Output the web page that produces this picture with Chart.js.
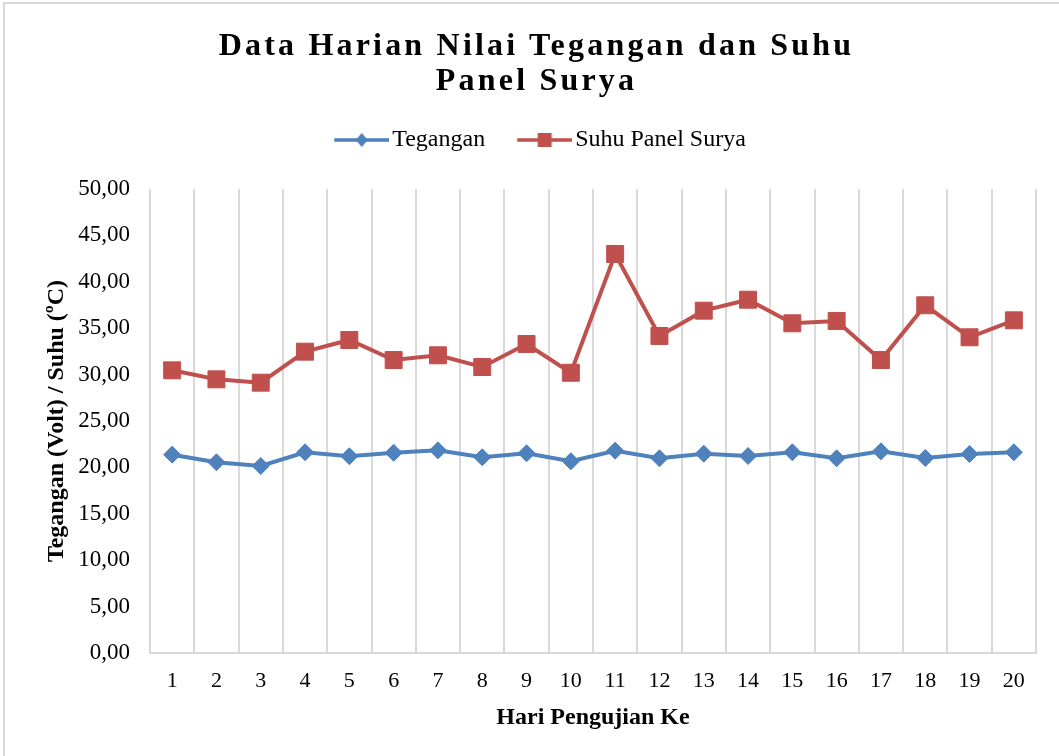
<!DOCTYPE html>
<html>
<head>
<meta charset="utf-8">
<script src="https://cdn.jsdelivr.net/npm/chart.js@4.4.1/dist/chart.umd.min.js"></script>
<style>
  html, body { margin: 0; padding: 0; background: #ffffff; }
  #wrap { position: relative; width: 1059px; height: 756px; }
  #title {
    position: absolute; left: 7px; top: 27px; width: 1059px;
    text-align: center; font-family: 'Liberation Serif', 'Times New Roman', serif;
    font-weight: bold; font-size: 32px; letter-spacing: 3.2px; line-height: 35px; color: #000;
  }
  canvas { position: absolute; left: 0; top: 0; }
</style>
</head>
<body>
<div id="wrap">
  <canvas id="c" width="1059" height="756"></canvas>
  <div id="title">Data Harian Nilai Tegangan dan Suhu<br>Panel Surya</div>
</div>
<script>
const categories = ['1','2','3','4','5','6','7','8','9','10','11','12','13','14','15','16','17','18','19','20'];
const tegangan = [21.37, 20.55, 20.15, 21.63, 21.20, 21.58, 21.84, 21.09, 21.52, 20.66, 21.80, 20.98, 21.48, 21.23, 21.63, 20.98, 21.73, 21.01, 21.44, 21.63];
const suhuPanel = [30.46, 29.49, 29.13, 32.47, 33.73, 31.57, 32.08, 30.82, 33.30, 30.20, 43.00, 34.16, 36.89, 38.07, 35.53, 35.78, 31.57, 37.47, 34.02, 35.85];
const seriesNames = ['Tegangan', 'Suhu Panel Surya'];
const yMin = 0, yMax = 50, yStep = 5;
const xTitle = 'Hari Pengujian Ke';
const yTitle = 'Tegangan (Volt) / Suhu (ºC)';

const BLUE = '#4F81BD';
const RED = '#C0504D';
const FONT = "'Liberation Serif', 'Times New Roman', serif";

function legendIcon(color, shape) {
  const cv = document.createElement('canvas');
  cv.width = 86; cv.height = 20;
  const g = cv.getContext('2d');
  g.strokeStyle = color; g.lineWidth = 3.5;
  g.beginPath(); g.moveTo(31, 10); g.lineTo(86, 10); g.stroke();
  g.fillStyle = color;
  const cx = 58.5, cy = 10;
  g.beginPath();
  if (shape === 'diamond') {
    g.moveTo(cx - 6, cy); g.lineTo(cx, cy - 7); g.lineTo(cx + 6, cy); g.lineTo(cx, cy + 7);
  } else {
    g.rect(cx - 7, cy - 7, 14, 14);
  }
  g.closePath(); g.fill();
  return cv;
}
const icons = [legendIcon(BLUE, 'diamond'), legendIcon(RED, 'square')];

const borderPlugin = {
  id: 'outerBorder',
  beforeDraw(chart) {
    const ctx = chart.ctx;
    ctx.save();
    ctx.fillStyle = '#ffffff';
    ctx.fillRect(0, 0, chart.width, chart.height);
    ctx.strokeStyle = '#d9d9d9';
    ctx.lineWidth = 2;
    ctx.strokeRect(4, 3, chart.width + 20, chart.height + 20);
    ctx.restore();
  }
};

const legendSpacer = {
  id: 'legendSpacer',
  beforeLayout(chart) {
    const lg = chart.legend;
    if (lg && !lg._spacerWrapped) {
      const orig = lg.fit;
      lg.fit = function () { orig.apply(this, arguments); this.height += 27; };
      lg._spacerWrapped = true;
    }
  }
};

new Chart(document.getElementById('c'), {
  type: 'line',
  data: {
    labels: categories,
    datasets: [
      {
        label: seriesNames[0], data: tegangan,
        borderColor: BLUE, backgroundColor: BLUE, borderWidth: 4,
        pointStyle: 'rectRot', pointRadius: 8.5, pointBorderWidth: 1,
        pointBackgroundColor: BLUE, pointBorderColor: BLUE, tension: 0
      },
      {
        label: seriesNames[1], data: suhuPanel,
        borderColor: RED, backgroundColor: RED, borderWidth: 4,
        pointStyle: 'rect', pointRadius: 12, pointBorderWidth: 1,
        pointBackgroundColor: RED, pointBorderColor: RED, tension: 0
      }
    ]
  },
  options: {
    responsive: false,
    animation: false,
    layout: { padding: { top: 118, left: 22, right: 23, bottom: 0 } },
    plugins: {
      title: { display: false },
      tooltip: { enabled: false },
      legend: {
        display: true, position: 'top',
        labels: {
          usePointStyle: true, pointStyleWidth: 68, boxHeight: 20,
          padding: 10, color: '#000',
          font: { family: FONT, size: 24 },
          generateLabels(chart) {
            return chart.data.datasets.map((ds, i) => ({
              text: ds.label, pointStyle: icons[i], fillStyle: 'transparent',
              strokeStyle: 'transparent', lineWidth: 0, datasetIndex: i, hidden: false
            }));
          }
        }
      }
    },
    scales: {
      x: {
        type: 'category', offset: true,
        grid: { display: true, offset: true, color: '#d9d9d9', lineWidth: 2, drawTicks: false },
        border: { display: true, color: '#d9d9d9', width: 2 },
        ticks: { color: '#000', font: { family: FONT, size: 22 }, padding: 15, maxRotation: 0, autoSkip: false },
        title: { display: true, text: xTitle, color: '#000', font: { family: FONT, size: 24, weight: 'bold' }, padding: { top: 4, bottom: 24 } },
        afterFit(scale) { scale.height = 103; }
      },
      y: {
        min: yMin, max: yMax,
        grid: { display: false, drawTicks: false },
        border: { display: false },
        ticks: {
          stepSize: yStep, color: '#000', padding: 20,
          font: { family: FONT, size: 23 },
          callback: (v) => Number(v).toFixed(2).replace('.', ',')
        },
        title: { display: true, text: yTitle, color: '#000', font: { family: FONT, size: 24, weight: 'bold' }, padding: { top: 20, bottom: 0 } },
        afterFit(scale) { scale.width = 128; }
      }
    }
  },
  plugins: [borderPlugin, legendSpacer]
});
</script>
</body>
</html>
